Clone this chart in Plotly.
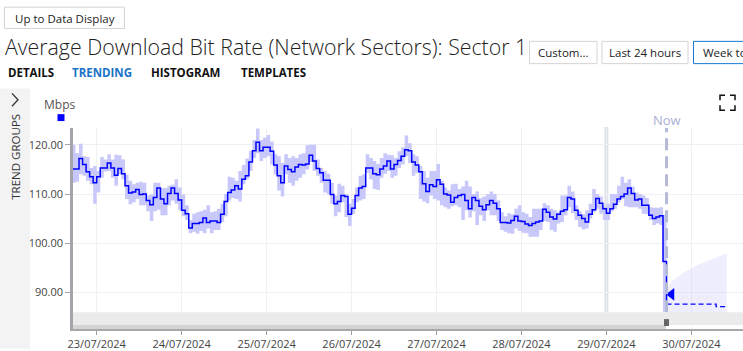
import pandas as pd
import plotly.graph_objects as go

# ---------------- data ----------------
start_time = "2024-07-22 17:00"
times = pd.date_range(start_time, periods=169, freq="h")

mean_mbps = [
    115.1, 115.1, 117.2, 116.0, 114.5, 113.5, 112.3,
    113.5, 115.3, 115.3, 116.3, 115.3, 113.8, 115.2, 114.1, 111.7, 110.2, 110.4, 110.9,
    109.9, 110.0, 108.7, 107.8, 109.3, 111.2, 109.0, 108.0, 110.1, 111.2, 110.1, 108.8,
    106.7, 106.0, 103.1, 104.0, 104.0, 104.2, 105.1, 104.2, 104.5, 104.5, 104.2, 105.9,
    108.5, 110.3, 110.8, 111.7, 111.0, 113.0, 113.7, 116.5, 118.8, 120.5, 118.8, 119.5,
    119.5, 118.7, 115.9, 113.7, 112.3, 115.7, 115.0, 114.5, 115.5, 116.0, 115.9, 116.1,
    117.9, 116.7, 115.2, 114.3, 112.8, 112.8, 109.9, 108.0, 108.5, 109.7, 109.5, 105.9,
    107.1, 109.7, 111.2, 111.5, 115.3, 115.3, 114.1, 113.9, 115.1, 115.7, 116.7, 115.1,
    116.0, 116.8, 117.7, 119.0, 118.8, 116.5, 115.9, 114.5, 112.1, 110.5, 111.9, 111.5,
    112.9, 112.0, 110.0, 109.8, 108.3, 109.3, 109.7, 109.9, 108.7, 107.0, 109.3, 108.7,
    107.5, 106.8, 107.8, 108.7, 108.1, 107.0, 104.2, 104.2, 104.1, 104.6, 105.5, 104.5,
    104.4, 103.9, 103.6, 104.0, 104.3, 104.5, 106.9, 106.3, 105.3, 104.9, 105.9, 106.5,
    106.8, 109.3, 109.0, 106.7, 105.7, 105.0, 104.3, 105.9, 106.8, 109.1, 108.1, 107.0,
    106.1, 107.0, 107.9, 109.0, 109.5, 110.0, 111.2, 110.1, 108.8, 109.0, 107.7, 107.7,
    105.7, 105.0, 105.3, 105.6, 96.3, 87.8,
]

max_mbps = [
    120.0, 118.3, 120.2, 117.7, 117.5, 115.3, 115.7,
    114.7, 117.5, 117.0, 118.1, 117.0, 118.0, 117.9, 117.0, 113.9, 112.7, 112.0, 112.3,
    112.5, 112.3, 109.7, 109.9, 112.3, 112.3, 111.2, 111.2, 111.7, 111.9, 113.0, 111.3,
    109.9, 107.7, 104.7, 106.0, 106.3, 106.5, 106.8, 107.7, 106.3, 106.5, 107.0, 108.0,
    110.0, 113.5, 113.3, 112.7, 114.7, 115.9, 117.2, 118.8, 121.0, 123.3, 121.0, 121.5,
    122.0, 120.7, 118.1, 117.7, 116.3, 118.1, 117.3, 117.7, 117.3, 118.1, 118.3, 119.9,
    120.0, 120.0, 117.0, 115.3, 114.7, 114.1, 112.3, 109.7, 112.1, 111.7, 110.0, 108.0,
    109.0, 111.3, 113.7, 114.0, 118.1, 117.3, 116.7, 116.1, 117.3, 118.3, 118.0, 117.9,
    117.3, 118.7, 119.5, 121.9, 120.3, 118.1, 117.7, 115.7, 114.7, 113.3, 114.7, 114.7,
    116.1, 112.7, 111.3, 110.7, 112.0, 112.1, 111.0, 111.5, 112.7, 111.5, 110.0, 110.5,
    109.2, 109.5, 110.0, 110.5, 110.0, 108.7, 106.3, 105.5, 106.1, 105.9, 107.0, 107.7,
    106.3, 106.0, 105.3, 107.0, 107.0, 107.0, 108.1, 107.7, 107.0, 106.7, 106.3, 109.7,
    109.7, 111.7, 110.5, 107.7, 106.5, 105.9, 106.7, 108.0, 111.0, 110.0, 109.5, 107.5,
    108.0, 110.0, 110.0, 111.7, 113.5, 112.3, 113.0, 111.5, 110.3, 110.0, 109.7, 109.2,
    107.3, 107.2, 107.2, 107.3, 105.8, 90.0,
]

min_mbps = [
    112.3, 112.5, 114.0, 113.7, 112.7, 112.0, 108.0,
    110.3, 113.3, 114.6, 114.7, 113.3, 111.7, 114.0, 113.0, 109.0, 107.9, 108.3, 109.0,
    107.7, 107.7, 106.5, 104.5, 106.5, 106.8, 105.7, 105.7, 107.7, 108.7, 108.0, 106.7,
    105.5, 104.7, 102.0, 102.3, 101.9, 102.5, 102.0, 103.0, 102.0, 102.7, 102.7, 104.3,
    105.5, 108.7, 109.2, 109.0, 108.5, 112.0, 113.0, 114.7, 117.3, 118.3, 116.7, 117.3,
    117.7, 116.0, 114.0, 110.7, 109.5, 114.0, 112.3, 111.7, 112.7, 113.3, 114.0, 115.0,
    116.5, 114.7, 113.7, 112.3, 110.3, 110.0, 108.0, 105.5, 106.3, 108.3, 105.3, 103.5,
    106.0, 108.3, 108.7, 109.0, 114.3, 113.0, 111.0, 110.8, 113.3, 114.1, 114.7, 113.3,
    113.7, 115.3, 116.0, 117.7, 116.3, 113.7, 114.3, 109.0, 108.5, 108.1, 109.7, 109.0,
    108.7, 107.7, 107.3, 107.0, 107.5, 107.7, 107.3, 104.7, 106.7, 105.2, 106.5, 103.7,
    105.7, 104.5, 106.7, 105.7, 105.7, 104.5, 102.7, 102.3, 102.0, 101.9, 103.0, 102.5,
    102.1, 102.0, 101.3, 101.3, 101.3, 102.7, 104.5, 104.3, 102.7, 102.3, 104.0, 104.3,
    105.7, 107.3, 106.1, 104.7, 103.3, 102.8, 103.0, 105.0, 106.3, 107.0, 106.0, 104.7,
    104.7, 106.5, 107.0, 108.3, 109.0, 107.5, 107.3, 107.3, 107.3, 107.0, 106.0, 105.9,
    104.7, 103.7, 104.0, 103.7, 86.0, 86.0,
]

# forecast after "Now"
forecast_times = ["2024-07-29 17:00", "2024-07-30 07:00", "2024-07-30 10:00"]
forecast_mbps = [87.6, 87.1, 87.1]
fan_times = ["2024-07-29 17:00", "2024-07-29 18:00", "2024-07-29 21:00",
             "2024-07-30 02:00", "2024-07-30 06:00", "2024-07-30 10:00"]
fan_upper = [90.0, 91.8, 93.6, 95.6, 96.8, 97.9]
fan_lower = [84.0, 84.0, 84.0, 84.0, 84.0, 84.0]
marker_time = ["2024-07-29 18:24"]
marker_mbps = [89.6]

now_time = "2024-07-29 17:00"
band_day = "2024-07-29 00:00"
y_ticks = [90, 100, 110, 120]
x_range = ["2024-07-22 17:18", "2024-07-30 14:36"]
y_range = [82.55, 123.42]

# ---------------- layout helpers (pixel -> paper) ----------------
W, H = 743, 351
L, R, T, B = 73, 743, 128, 331
def px(x):
    return (x - L) / (R - L)
def py(y):
    return (B - y) / (B - T)

FONT = "Open Sans"

fig = go.Figure()

# min/max band
fig.add_trace(go.Scatter(x=times, y=max_mbps, mode="lines", line=dict(width=0, shape="hv"),
                         showlegend=False, hoverinfo="skip"))
fig.add_trace(go.Scatter(x=times, y=min_mbps, mode="lines", line=dict(width=0, shape="hv"),
                         fill="tonexty", fillcolor="#c8c8fa", showlegend=False, hoverinfo="skip"))
# forecast fan
fig.add_trace(go.Scatter(x=fan_times, y=fan_upper, mode="lines", line=dict(width=0, shape="spline"),
                         showlegend=False, hoverinfo="skip"))
fig.add_trace(go.Scatter(x=fan_times, y=fan_lower, mode="lines", line=dict(width=0, shape="spline"),
                         fill="tonexty", fillcolor="rgba(205,205,255,0.35)", showlegend=False,
                         hoverinfo="skip"))
# mean line
fig.add_trace(go.Scatter(x=times, y=mean_mbps, mode="lines",
                         line=dict(color="#0000ff", width=1.5, shape="hv"), name="Mbps",
                         showlegend=False))
# forecast line
fig.add_trace(go.Scatter(x=forecast_times, y=forecast_mbps, mode="lines",
                         line=dict(color="#0000ff", width=1.3, shape="hv", dash="5px,3px"),
                         showlegend=False))
fig.add_trace(go.Scatter(x=marker_time, y=marker_mbps, mode="markers",
                         marker=dict(symbol="triangle-left", size=11, color="#0000ff"),
                         showlegend=False))

shapes = []
# 29/07 highlight band
shapes.append(dict(type="line", xref="x", yref="paper", x0=band_day, x1=band_day,
                   y0=py(314), y1=py(127), line=dict(color="#dbe2ea", width=4), layer="below"))
# Now line
shapes.append(dict(type="line", xref="x", yref="paper", x0=now_time, x1=now_time,
                   y0=py(314), y1=py(128), line=dict(color="#b5bad8", width=3, dash="12px,6px"),
                   layer="above"))
# navigator band
shapes.append(dict(type="rect", xref="paper", yref="paper", x0=0, x1=1, y0=py(327), y1=py(314),
                   fillcolor="#ebebeb", line=dict(width=0), layer="above"))
shapes.append(dict(type="rect", xref="paper", yref="paper", x0=0, x1=px(666), y0=py(331), y1=py(327),
                   fillcolor="#d4d4d4", line=dict(width=0), layer="above"))
shapes.append(dict(type="rect", xref="paper", yref="paper", x0=px(664), x1=px(669), y0=py(328),
                   y1=py(321), fillcolor="#666666", line=dict(width=0), layer="above"))
# sidebar
shapes.append(dict(type="rect", xref="paper", yref="paper", x0=px(0), x1=px(30), y0=py(351),
                   y1=py(88), fillcolor="#f3f3f3", line=dict(width=0), layer="above"))
# chevron
shapes.append(dict(type="path", xref="paper", yref="paper",
                   path=f"M {px(12)},{py(93)} L {px(18)},{py(99.5)} L {px(12)},{py(106)}",
                   line=dict(color="#333333", width=1.3), layer="above"))
# legend square
shapes.append(dict(type="rect", xref="paper", yref="paper", x0=px(57.5), x1=px(64.5), y0=py(121),
                   y1=py(114), fillcolor="#0000ff", line=dict(width=0), layer="above"))
# buttons
def button(x0, x1, y0, y1, color="#d4d4d4"):
    return dict(type="rect", xref="paper", yref="paper", x0=px(x0), x1=px(x1), y0=py(y1), y1=py(y0),
                fillcolor="white", line=dict(color=color, width=1), layer="above")
shapes.append(button(4.5, 124.5, 6, 27.5))
shapes.append(button(529.5, 597, 40.5, 63))
shapes.append(button(602, 688, 40.5, 63))
shapes.append(button(693.5, 760, 40.5, 63, "#1976d2"))
# fullscreen icon
c = "#111111"
for (cx, cy, dx, dy) in [(720, 95, 1, 1), (735, 95, -1, 1), (720, 110, 1, -1), (735, 110, -1, -1)]:
    shapes.append(dict(type="path", xref="paper", yref="paper",
                       path=f"M {px(cx)},{py(cy + 5*dy)} L {px(cx)},{py(cy)} L {px(cx + 5*dx)},{py(cy)}",
                       line=dict(color=c, width=1.5), layer="above"))

ann = []
def text(x, y, s, size=12, color="#222222", xanchor="left", weight="normal", angle=0, family=FONT):
    ann.append(dict(x=px(x), y=py(y), xref="paper", yref="paper", text=s, showarrow=False,
                    xanchor=xanchor, yanchor="middle", textangle=angle,
                    font=dict(family=family, size=size, color=color, weight=weight)))

text(64.5, 17, "Up to Data Display", 11.5, xanchor="center")
text(3, 46, "Average Download Bit Rate (Network Sectors): Sector 1", 21.3, color="#222222", weight=300)
text(563, 52, "Custom...", 11.5, xanchor="center")
text(645, 52, "Last 24 hours", 11.5, xanchor="center")
text(701, 52, "Week to", 11.5)
text(6, 72, "DETAILS", 11.5, color="#111111", weight="bold")
text(70, 72, "TRENDING", 11.5, color="#1a73c8", weight="bold")
text(149, 72, "HISTOGRAM", 11.5, color="#111111", weight="bold")
text(239, 72, "TEMPLATES", 11.5, color="#111111", weight="bold")
text(16, 157, "TREND GROUPS", 11.5, color="#333333", xanchor="center", angle=-90)
text(42, 104, "Mbps", 12, color="#555555")
text(667, 120, "Now", 13, color="#aab0d2", xanchor="center")

fig.update_layout(
    width=W, height=H,
    margin=dict(l=L, r=W - R, t=T, b=H - B, pad=0),
    paper_bgcolor="white", plot_bgcolor="white",
    font=dict(family=FONT, size=11, color="#444444"),
    shapes=shapes, annotations=ann, showlegend=False, hovermode=False,
    xaxis=dict(type="date", range=x_range, tick0="2024-07-23", dtick=86400000,
               tickformat="%d/%m/%Y", showgrid=True, gridcolor="#eef0f4", gridwidth=1,
               ticks="outside", ticklen=4, tickcolor="#9a9a9a", showline=True,
               linecolor="#a8a8a8", linewidth=2, zeroline=False,
               tickfont=dict(family=FONT, size=11, color="#444444")),
    yaxis=dict(range=y_range, tickvals=y_ticks, tickformat=".2f", showgrid=True,
               gridcolor="#eef0f4", gridwidth=1, ticks="outside", ticklen=5,
               tickcolor="#a2a6aa", showline=True, linecolor="#a2a6aa", linewidth=2.5,
               zeroline=False, tickfont=dict(family=FONT, size=11, color="#444444")),
)

fig.write_html("out.html")
